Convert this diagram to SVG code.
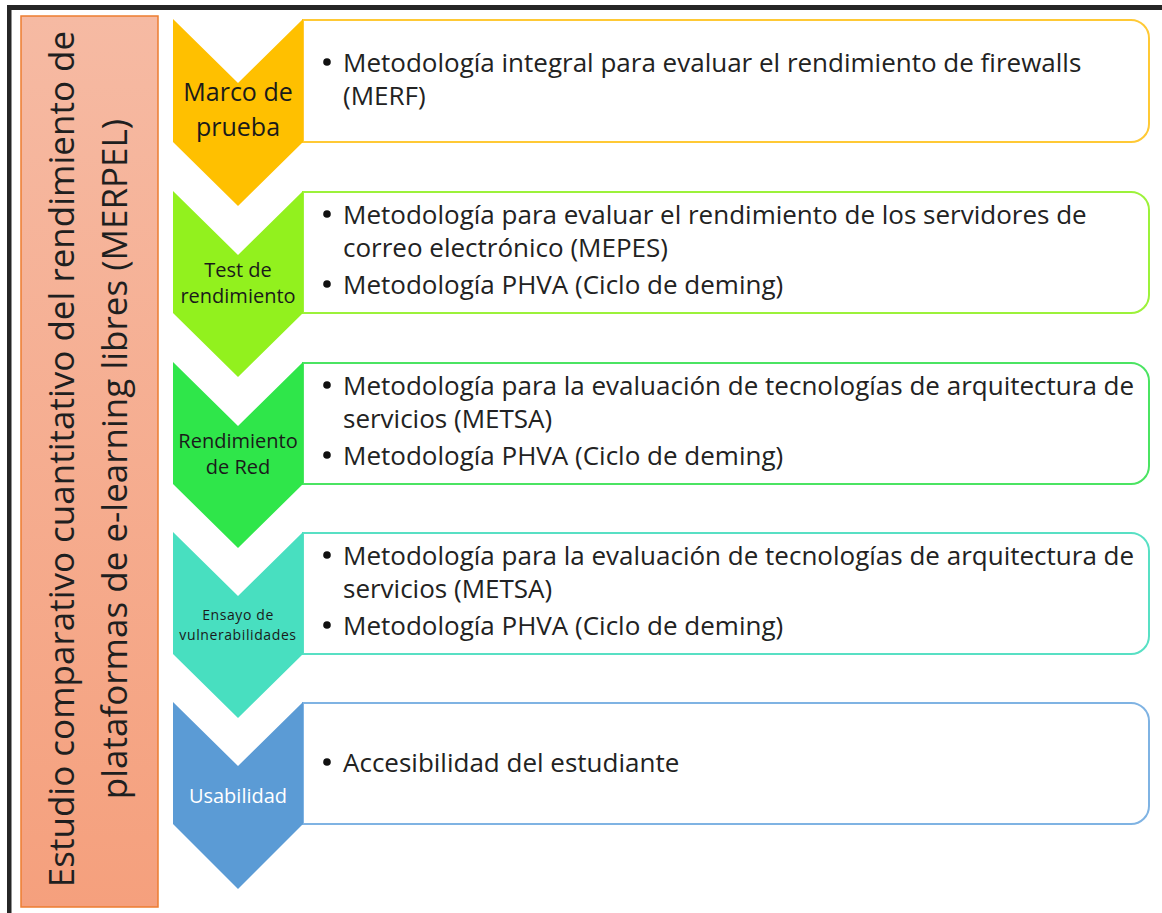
<svg xmlns="http://www.w3.org/2000/svg" width="1162" height="913" viewBox="0 0 1162 913">
  <defs>
    <linearGradient id="titleFill" x1="0" y1="0" x2="0" y2="1">
      <stop offset="0" stop-color="#f6baa3"/>
      <stop offset="1" stop-color="#f5a07d"/>
    </linearGradient>
    <style>
      .body { font-family: "Open Sans", "DejaVu Sans", sans-serif; font-size: 26px; fill: #222222; }
      .dot { fill: #111111; }
      .lbl { font-family: "Open Sans", "DejaVu Sans", sans-serif; fill: #1a1a1a; text-anchor: middle; }
      .title { font-family: "Open Sans", "DejaVu Sans", sans-serif; font-size: 35px; fill: #1f1f1f; text-anchor: middle; }
      .box { fill: #ffffff; stroke-width: 2; }
    </style>
  </defs>

  <rect width="1162" height="913" fill="#ffffff"/>

  <!-- frame edges -->
  <rect x="7" y="5" width="1155" height="5" fill="#262626"/>
  <rect x="7" y="5" width="4.5" height="908" fill="#262626"/>

  <!-- vertical title bar -->
  <g id="title">
    <rect x="21" y="16" width="137" height="891" fill="url(#titleFill)" stroke="#ed7d31" stroke-width="1.5"/>
    <g transform="rotate(-90)">
      <text class="title" x="-459" y="74">Estudio comparativo cuantitativo del rendimiento de</text>
      <text class="title" x="-459" y="127">plataformas de e-learning libres (MERPEL)</text>
    </g>
  </g>

  <!-- step 1 -->
  <g id="step1">
    <path class="box" stroke="#ffc935" d="M303,20 H1131 A18,18 0 0 1 1149,38 V124 A18,18 0 0 1 1131,142 H303 Z"/>
    <polygon fill="#ffc000" points="173,19 238,83 303,19 303,142 238,206 173,142"/>
    <text class="lbl" x="238" y="101" font-size="25">Marco de</text>
    <text class="lbl" x="238" y="136" font-size="25">prueba</text>
    <circle class="dot" cx="327" cy="62" r="3.8"/>
    <text class="body" x="343" y="72">Metodología integral para evaluar el rendimiento de firewalls</text>
    <text class="body" x="343" y="105">(MERF)</text>
  </g>

  <!-- step 2 -->
  <g id="step2">
    <path class="box" stroke="#9cf23a" d="M303,192 H1131 A18,18 0 0 1 1149,210 V295 A18,18 0 0 1 1131,313 H303 Z"/>
    <polygon fill="#92f11e" points="173,191 238,255 303,191 303,313 238,377 173,313"/>
    <text class="lbl" x="238" y="277" font-size="20">Test de</text>
    <text class="lbl" x="238" y="303" font-size="20">rendimiento</text>
    <circle class="dot" cx="327" cy="214" r="3.8"/>
    <text class="body" x="343" y="224">Metodología para evaluar el rendimiento de los servidores de</text>
    <text class="body" x="343" y="257">correo electrónico (MEPES)</text>
    <circle class="dot" cx="327" cy="284" r="3.8"/>
    <text class="body" x="343" y="294">Metodología PHVA (Ciclo de deming)</text>
  </g>

  <!-- step 3 -->
  <g id="step3">
    <path class="box" stroke="#4be462" d="M303,363 H1131 A18,18 0 0 1 1149,381 V466 A18,18 0 0 1 1131,484 H303 Z"/>
    <polygon fill="#2fe64a" points="173,362 238,426 303,362 303,484 238,548 173,484"/>
    <text class="lbl" x="238" y="448" font-size="20">Rendimiento</text>
    <text class="lbl" x="238" y="474" font-size="20">de Red</text>
    <circle class="dot" cx="327" cy="385" r="3.8"/>
    <text class="body" x="343" y="395">Metodología para la evaluación de tecnologías de arquitectura de</text>
    <text class="body" x="343" y="428">servicios (METSA)</text>
    <circle class="dot" cx="327" cy="455" r="3.8"/>
    <text class="body" x="343" y="465">Metodología PHVA (Ciclo de deming)</text>
  </g>

  <!-- step 4 -->
  <g id="step4">
    <path class="box" stroke="#58e0c4" d="M303,533 H1131 A18,18 0 0 1 1149,551 V636 A18,18 0 0 1 1131,654 H303 Z"/>
    <polygon fill="#48dfc0" points="173,532 238,596 303,532 303,654 238,718 173,654"/>
    <text class="lbl" x="238" y="620" font-size="14" letter-spacing="0.6">Ensayo de</text>
    <text class="lbl" x="238" y="640" font-size="14" letter-spacing="0.6">vulnerabilidades</text>
    <circle class="dot" cx="327" cy="555" r="3.8"/>
    <text class="body" x="343" y="565">Metodología para la evaluación de tecnologías de arquitectura de</text>
    <text class="body" x="343" y="598">servicios (METSA)</text>
    <circle class="dot" cx="327" cy="625" r="3.8"/>
    <text class="body" x="343" y="635">Metodología PHVA (Ciclo de deming)</text>
  </g>

  <!-- step 5 -->
  <g id="step5">
    <path class="box" stroke="#7fb3e3" d="M303,703 H1131 A18,18 0 0 1 1149,721 V806 A18,18 0 0 1 1131,824 H303 Z"/>
    <polygon fill="#5b9bd5" points="173,702 238,766 303,702 303,824 238,889 173,824"/>
    <text class="lbl" x="238" y="803" font-size="20" style="fill:#ffffff">Usabilidad</text>
    <circle class="dot" cx="327" cy="762" r="3.8"/>
    <text class="body" x="343" y="772">Accesibilidad del estudiante</text>
  </g>

  <!-- connectors: none drawn; the chevrons carry the sequence -->
  <g id="connectors"/>
</svg>
